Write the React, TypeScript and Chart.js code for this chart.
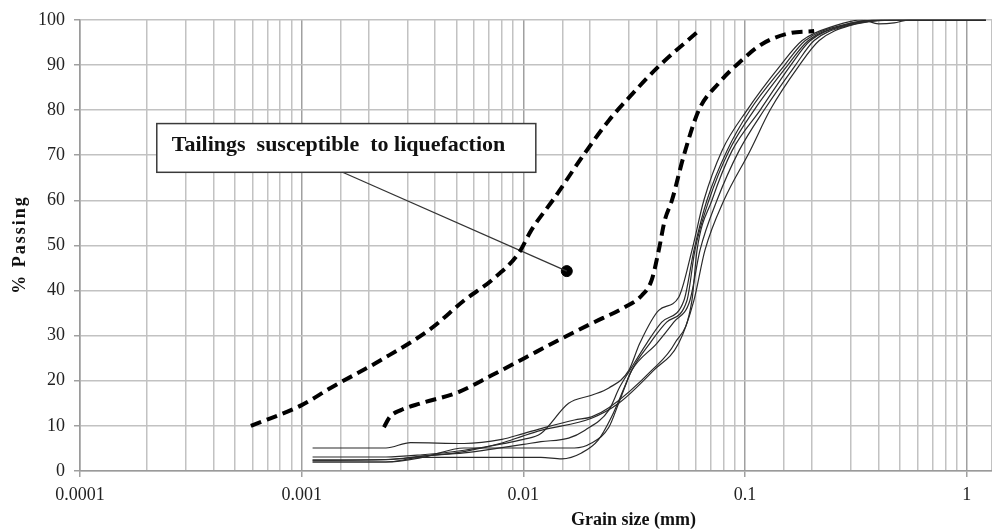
import React, { useEffect, useRef } from 'react';
import { Chart, registerables } from 'chart.js';

Chart.register(...registerables);

// ---- axis tick labels ----
const xTickLabels = ['0.0001', '0.001', '0.01', '0.1', '1'];
const yTickStep = 10;

// ---- dashed envelope curves (grain size mm, % passing) ----
const envelopeFine: [number, number][] = [
  [0.00059, 10], [0.001, 14.6], [0.00135, 18.4], [0.00228, 24.6], [0.00384, 31.6],
  [0.0054, 37.8], [0.0072, 42.3], [0.0095, 48.2], [0.0109, 53.5], [0.0138, 60.5],
  [0.0189, 70.4], [0.0243, 77.7], [0.03, 82.8], [0.041, 89.8], [0.062, 97.6],
];
const envelopeCoarse: [number, number][] = [
  [0.00235, 9.7], [0.0025, 12], [0.0028, 13.5], [0.00345, 15], [0.0051, 17.5],
  [0.0072, 21.2], [0.0101, 25], [0.0144, 29], [0.0203, 32.7], [0.0286, 36.3],
  [0.0342, 38.9], [0.0379, 42.3], [0.0408, 48.9], [0.0434, 55.5], [0.0468, 60],
  [0.053, 70], [0.0619, 80], [0.0762, 86], [0.094, 90.5], [0.119, 94.6],
  [0.158, 97], [0.205, 97.5],
];

// ---- tailings gradation curves ----
const tailingsP: [number, number][] = [
  [0.00112, 3.1], [0.0024, 3.1], [0.0035, 3.6], [0.0054, 4.6], [0.008, 6], [0.01, 7],
  [0.012, 8.3], [0.016, 15], [0.0203, 16.8], [0.0243, 18.4], [0.0299, 22.3], [0.0335, 28.3],
  [0.0408, 35.6], [0.0502, 38.5], [0.0576, 48.9], [0.0652, 60], [0.0787, 71], [0.1021, 80],
  [0.1439, 89.8], [0.181, 95.4], [0.255, 98.7], [0.338, 100], [0.4, 99.1], [0.47, 99.3],
  [0.55, 100], [1.22, 100],
];
const tailingsQ: [number, number][] = [
  [0.00112, 5.1], [0.0024, 5.1], [0.0031, 6.3], [0.0054, 6.1], [0.008, 7.0], [0.01, 8.3],
  [0.012, 9.4], [0.017, 11.3], [0.0203, 12], [0.0243, 14], [0.0379, 22.3], [0.0482, 28.3],
  [0.0576, 37.8], [0.0607, 48.9], [0.0709, 60], [0.0874, 71], [0.117, 80], [0.16, 89.8],
  [0.197, 95.4], [0.281, 98.7], [0.417, 100], [1.22, 100],
];
const tailingsR: [number, number][] = [
  [0.00112, 2.4], [0.0024, 2.5], [0.0035, 3.3], [0.0054, 4.3], [0.008, 6.2], [0.01, 7.8],
  [0.012, 9.0], [0.0203, 11.7], [0.0269, 15], [0.0387, 22.3], [0.0502, 28.3], [0.0588, 37.8],
  [0.0659, 48.9], [0.0803, 60], [0.1054, 71], [0.1297, 80], [0.175, 89.8], [0.216, 95.4],
  [0.296, 98.7], [0.541, 100], [1.22, 100],
];
const tailingsS: [number, number][] = [
  [0.00112, 2.4], [0.0026, 2.6], [0.0035, 3.3], [0.0054, 4.0], [0.008, 5.2], [0.01, 5.9],
  [0.012, 6.5], [0.016, 7.3], [0.0189, 9], [0.0243, 13.5], [0.0272, 18.6], [0.0302, 22.3],
  [0.036, 28.3], [0.0421, 33], [0.053, 37.8], [0.0588, 48.9], [0.0673, 60], [0.0829, 71],
  [0.1054, 80], [0.15, 89.8], [0.187, 95.4], [0.269, 98.7], [0.417, 100], [1.22, 100],
];
const tailingsT: [number, number][] = [
  [0.00112, 2.0], [0.0024, 2.0], [0.0035, 3.0], [0.0054, 5.1], [0.017, 5.1], [0.0203, 6.2],
  [0.0243, 9.7], [0.0269, 15], [0.0308, 22.3], [0.0372, 28.3], [0.0443, 33], [0.0547, 37.8],
  [0.0594, 48.9], [0.0687, 60], [0.0847, 71], [0.1099, 80], [0.155, 89.8], [0.193, 95.4],
  [0.275, 98.7], [0.376, 100], [1.22, 100],
];
const tailingsU: [number, number][] = [
  [0.00112, 2.0], [0.0024, 2.0], [0.0035, 3.0], [0.0054, 3.0], [0.012, 3.0], [0.0149, 2.7],
  [0.0183, 4], [0.0218, 6.9], [0.025, 12], [0.0286, 18.6], [0.0308, 22.3], [0.04, 28.3],
  [0.0477, 33], [0.0564, 37.8], [0.0626, 48.9], [0.0747, 60], [0.094, 71], [0.1219, 80],
  [0.168, 89.8], [0.205, 95.4], [0.29, 98.7], [0.462, 100], [1.22, 100],
];

// ---- annotation (data coordinates) ----
const annotationText = 'Tailings  susceptible  to liquefaction';
const annotationBoxX = [0.000222, 0.01138];
const annotationBoxY = [77, 66.2];
const leaderLine: [number, number][] = [[0.00153, 66.2], [0.0157, 44.3]];
const leaderDot: [number, number][] = [[0.0157, 44.3]];

const xTitle = 'Grain size (mm)';
const yTitle = '% Passing';

const SERIF = '"Liberation Serif", "Times New Roman", serif';

const toXY = (arr: [number, number][]) => arr.map(([x, y]) => ({ x, y }));
const isMajor = (v: number | undefined) => {
  if (v === undefined || v <= 0) return false;
  const l = Math.log10(v);
  return Math.abs(l - Math.round(l)) < 1e-6;
};

const overlayPlugin = {
  id: 'overlay',
  afterDatasetsDraw(chart: any) {
    const { ctx, scales } = chart;
    const x = scales.x, y = scales.y;
    const l = x.getPixelForValue(annotationBoxX[0]);
    const r = x.getPixelForValue(annotationBoxX[1]);
    const t = y.getPixelForValue(annotationBoxY[0]);
    const b = y.getPixelForValue(annotationBoxY[1]);
    ctx.save();
    ctx.fillStyle = '#ffffff';
    ctx.fillRect(l, t, r - l, b - t);
    ctx.strokeStyle = '#3a3a3a';
    ctx.lineWidth = 1.5;
    ctx.strokeRect(l, t, r - l, b - t);
    ctx.fillStyle = '#111';
    ctx.font = `bold 22px ${SERIF}`;
    ctx.textBaseline = 'alphabetic';
    ctx.textAlign = 'left';
    ctx.fillText(annotationText, l + 15, t + 27);
    ctx.restore();
  },
  afterDraw(chart: any) {
    const { ctx, chartArea } = chart;
    ctx.save();
    ctx.fillStyle = '#111';
    ctx.font = `bold 18px ${SERIF}`;
    ctx.textAlign = 'center';
    ctx.textBaseline = 'middle';
    ctx.fillText(xTitle, chartArea.left + (chartArea.right - chartArea.left) * 0.607, chartArea.bottom + 49);
    ctx.translate(20, (chartArea.top + chartArea.bottom) / 2 - 1);
    ctx.rotate(-Math.PI / 2);
    (ctx as any).letterSpacing = '2px';
    ctx.fillText(yTitle, 0, 0);
    ctx.restore();
  },
};

export default function App() {
  const ref = useRef<HTMLCanvasElement | null>(null);

  useEffect(() => {
    document.body.style.margin = '0';
    document.body.style.overflow = 'hidden';
    const canvas = ref.current;
    if (!canvas) return;

    const dashed = (data: [number, number][]) => ({
      data: toXY(data),
      showLine: true,
      borderColor: '#000',
      borderWidth: 4,
      borderDash: [11, 6],
      pointRadius: 0,
      cubicInterpolationMode: 'monotone' as const,
      fill: false,
    });
    const thin = (data: [number, number][]) => ({
      data: toXY(data),
      showLine: true,
      borderColor: '#2a2a2a',
      borderWidth: 1.2,
      pointRadius: 0,
      cubicInterpolationMode: 'monotone' as const,
      fill: false,
    });

    const chart = new Chart(canvas, {
      type: 'scatter',
      data: {
        datasets: [
          thin(tailingsP), thin(tailingsQ), thin(tailingsR),
          thin(tailingsS), thin(tailingsT), thin(tailingsU),
          dashed(envelopeFine), dashed(envelopeCoarse),
          {
            data: toXY(leaderLine), showLine: true, borderColor: '#333', borderWidth: 1.2,
            pointRadius: 0, tension: 0,
          },
          {
            data: toXY(leaderDot), showLine: false, pointRadius: 5.5,
            backgroundColor: '#000', borderColor: '#000',
          },
        ],
      },
      options: {
        animation: false,
        responsive: false,
        maintainAspectRatio: false,
        devicePixelRatio: 1,
        layout: { autoPadding: false, padding: { top: 19, right: 0, left: 0, bottom: 0 } },
        plugins: { legend: { display: false }, tooltip: { enabled: false } },
        scales: {
          x: {
            type: 'logarithmic',
            min: 0.0001,
            max: 1.3,
            afterFit: (s: any) => { s.height = 58; s.paddingRight = 0; s.paddingLeft = 0; },
            border: { color: '#9a9a9a', width: 1.5 },
            grid: {
              color: (c: any) => (isMajor(c.tick?.value) ? '#a0a0a0' : '#c2c2c2'),
              tickColor: (c: any) => (isMajor(c.tick?.value) ? '#a0a0a0' : 'rgba(0,0,0,0)'),
              tickLength: 6,
              lineWidth: 1.5,
            },
            ticks: {
              autoSkip: false,
              maxRotation: 0,
              padding: 7,
              color: '#222',
              font: { family: SERIF, size: 18 },
              callback: (v: any) => {
                const n = Number(v);
                if (!isMajor(n)) return '';
                const i = Math.round(Math.log10(n)) + 4;
                return xTickLabels[i] ?? '';
              },
            },
          },
          y: {
            min: 0,
            max: 100,
            afterFit: (s: any) => { s.width = 80; },
            border: { color: '#9a9a9a', width: 1.5 },
            grid: { color: '#c2c2c2', tickColor: '#a0a0a0', tickLength: 6, lineWidth: 1.5 },
            ticks: {
              stepSize: yTickStep,
              padding: 9,
              color: '#222',
              font: { family: SERIF, size: 18 },
            },
          },
        },
      },
      plugins: [overlayPlugin],
    });

    return () => chart.destroy();
  }, []);

  return (
    <div style={{ width: 992, height: 529, position: 'relative', overflow: 'hidden' }}>
      <canvas ref={ref} width={992} height={529} style={{ display: 'block', width: 992, height: 529 }} />
    </div>
  );
}
